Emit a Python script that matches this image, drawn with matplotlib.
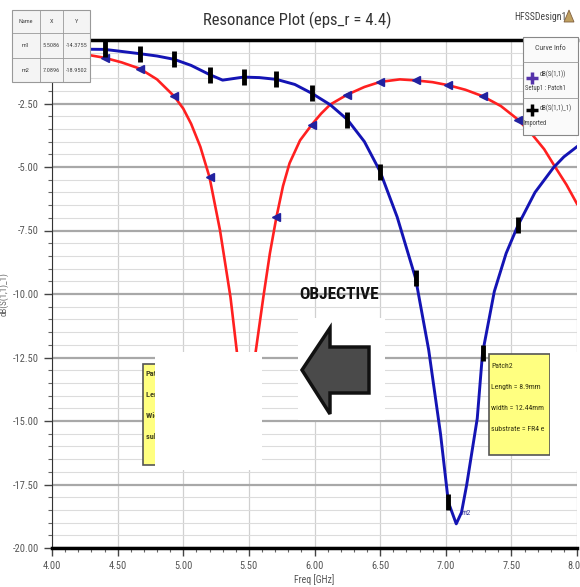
import numpy as np
import matplotlib
matplotlib.use("Agg")
import matplotlib.pyplot as plt
from matplotlib import font_manager
from matplotlib.patches import Rectangle, Polygon
from matplotlib.lines import Line2D
from matplotlib.ticker import MultipleLocator, FormatStrFormatter

# === DATA ===
# dB(S(1,1)) Setup1 : Patch1  (red curve)
freq_patch = [4.00, 4.15, 4.29, 4.40, 4.53, 4.67, 4.80, 4.93, 5.00, 5.06, 5.13, 5.20, 5.28,
              5.36, 5.41, 5.45, 5.49, 5.52, 5.55, 5.61, 5.66, 5.71, 5.76, 5.81, 5.89, 5.98,
              6.05, 6.12, 6.25, 6.38, 6.50, 6.65, 6.77, 6.90, 7.02, 7.15, 7.28, 7.42, 7.55,
              7.66, 7.75, 7.83, 7.92, 8.00]
db_patch = [-0.50, -0.55, -0.60, -0.70, -0.88, -1.13, -1.55, -2.21, -2.70, -3.30, -4.20, -5.40,
            -7.49, -10.13, -12.34, -13.70, -14.38, -13.60, -12.34, -10.13, -8.40, -6.97, -5.75,
            -4.85, -3.95, -3.33, -2.90, -2.54, -2.15, -1.85, -1.65, -1.55, -1.59, -1.66, -1.78,
            -1.96, -2.21, -2.60, -3.13, -3.73, -4.30, -4.97, -5.70, -6.45]

# dB(S(1,1)_1) Imported  (blue curve)
freq_imp = [4.00, 4.20, 4.40, 4.53, 4.67, 4.80, 4.93, 5.06, 5.20, 5.30, 5.38, 5.46,
            5.58, 5.71, 5.85, 5.98, 6.12, 6.25, 6.38, 6.50, 6.63, 6.77, 6.87, 6.96,
            7.02, 7.08, 7.12, 7.16, 7.24, 7.28, 7.37, 7.46, 7.55, 7.68, 7.82, 7.90, 8.00]
db_imp = [-0.37, -0.36, -0.37, -0.45, -0.54, -0.63, -0.76, -1.00, -1.36, -1.58, -1.52, -1.46,
          -1.48, -1.55, -1.75, -2.10, -2.55, -3.13, -4.00, -5.18, -6.97, -9.38, -12.20, -15.50,
          -18.20, -19.05, -18.60, -17.50, -14.90, -12.34, -9.90, -8.40, -7.30, -6.00, -5.03,
          -4.60, -4.20]

marker_freqs = [4.40, 4.67, 4.93, 5.20, 5.45, 5.46, 5.71, 5.98, 6.25, 6.50, 6.77, 7.02, 7.28, 7.55]

table_rows = [["Name", "X", "Y"],
              ["m1", "5.5086", "-14.3755"],
              ["m2", "7.0896", "-18.9502"]]

note_left = ["Patch1", "Length = 15.2mm", "Width = 18.6mm", "substrate = FR4 eps"]
note_right = ["Patch2", "Length = 8.9mm", "width = 12.44mm", "substrate = FR4 e"]

# narrow font if one is installed, else condensed DejaVu (falls back to normal)
names = {f.name for f in font_manager.fontManager.ttflist}
narrow = [n for n in ["Liberation Sans Narrow", "Roboto Condensed", "Open Sans Condensed",
                      "Arial Narrow"] if n in names]
plt.rcParams["font.family"] = narrow + ["DejaVu Sans"]
plt.rcParams["font.stretch"] = "condensed"

W, H = 580, 587
fig = plt.figure(figsize=(W / 100, H / 100), dpi=100)

def fx(x):
    return x / W

def fy(y):
    return 1 - y / H

ax = fig.add_axes([fx(52), fy(548), 525 / W, 508 / H])

# marker positions taken from the data arrays themselves
mk_patch = [i for i, f in enumerate(freq_patch) if f in marker_freqs]
mk_imp = [i for i, f in enumerate(freq_imp) if f in marker_freqs]

ax.plot(freq_patch, db_patch, color="#ff2020", lw=1.9, zorder=3,
        marker="<", ms=6, mfc="#2222a0", mec="#2222a0", markevery=mk_patch)
ax.plot(freq_imp, db_imp, color="#1414b4", lw=2.1, zorder=3,
        marker="|", ms=11, mew=3.5, mec="black", markevery=mk_imp)

ax.set_xlim(4, 8)
ax.set_ylim(-20, 0)
ax.xaxis.set_major_locator(MultipleLocator(0.5))
ax.xaxis.set_minor_locator(MultipleLocator(0.1))
ax.yaxis.set_major_locator(MultipleLocator(2.5))
ax.yaxis.set_minor_locator(MultipleLocator(0.5))
ax.xaxis.set_major_formatter(FormatStrFormatter("%.2f"))
ax.yaxis.set_major_formatter(FormatStrFormatter("%.2f"))
ax.set_yticks(np.arange(-20, 0, 2.5))
ax.grid(which="major", axis="y", color="#a8a8a8", lw=1.6)
ax.grid(which="minor", axis="y", color="#dcdcdc", lw=0.8)
ax.grid(which="major", axis="x", color="#d0d0d0", lw=0.9)
ax.tick_params(axis="both", which="major", labelsize=7.5, labelcolor="#555555",
               color="#444444", length=6, width=1)
ax.tick_params(axis="both", which="minor", color="#666666", length=3, width=0.8)
for s in ("top", "bottom"):
    ax.spines[s].set_linewidth(2.5)
    ax.spines[s].set_color("black")
ax.spines["left"].set_color("#333333")
ax.spines["right"].set_visible(False)
ax.set_xlabel("Freq [GHz]", fontsize=7, color="#555555", labelpad=2)
ax.set_ylabel("dB(S(1,1)_1)", fontsize=6.5, color="#666666", labelpad=3)

# m2 marker label
ax.annotate("m2", xy=(7.08, -19.05), xytext=(7.12, -18.7), fontsize=5.5, color="#333399")

# title and design name
fig.text(fx(297), fy(20), "Resonance Plot (eps_r = 4.4)", ha="center", va="center",
         fontsize=12, color="#333333")
fig.text(fx(540), fy(17), "HFSSDesign1", ha="center", va="center", fontsize=7, color="#444444")
fig.add_artist(Polygon([(fx(564), fy(22)), (fx(574), fy(22)), (fx(569), fy(10))],
                       closed=True, fc="#c0a060", ec="#806040", lw=0.6))

# marker table (top left)
col_x = [12, 40, 63, 90]
row_y = [10, 33, 58, 82]
fig.add_artist(Rectangle((fx(12), fy(82)), fx(78), 72 / H, fc="#f4f4f4", ec="#999999", lw=0.8))
for r, row in enumerate(table_rows):
    for c, cell in enumerate(row):
        fig.text(fx((col_x[c] + col_x[c + 1]) / 2), fy((row_y[r] + row_y[r + 1]) / 2), cell,
                 ha="center", va="center", fontsize=4.5, color="#444444")
for y in row_y[1:-1]:
    fig.add_artist(Line2D([fx(12), fx(90)], [fy(y), fy(y)], color="#999999", lw=0.6))
for x in col_x[1:-1]:
    fig.add_artist(Line2D([fx(x), fx(x)], [fy(10), fy(82)], color="#999999", lw=0.6))

# curve info legend (top right)
fig.add_artist(Rectangle((fx(523), fy(135)), fx(55), 98 / H, fc="#fafafa", ec="#888888", lw=0.8))
fig.text(fx(550), fy(48), "Curve Info", ha="center", va="center", fontsize=5.5, color="#444444")
for y in (62, 98):
    fig.add_artist(Line2D([fx(523), fx(578)], [fy(y), fy(y)], color="#999999", lw=0.6))
fig.add_artist(Line2D([fx(532)], [fy(78)], marker="+", ms=8, mew=2.5, color="#5533aa"))
fig.text(fx(540), fy(74), "dB(S(1,1))", fontsize=4.8, va="center", color="#444444")
fig.text(fx(525), fy(88), "Setup1 : Patch1", fontsize=4.8, va="center", color="#444444")
fig.add_artist(Line2D([fx(532)], [fy(110)], marker="+", ms=8, mew=2.5, color="black"))
fig.text(fx(540), fy(108), "dB(S(1,1)_1)", fontsize=4.8, va="center", color="#444444")
fig.text(fx(524), fy(124), "Imported", fontsize=4.8, va="center", color="#444444")

# left note (mostly covered by a white patch)
fig.add_artist(Rectangle((fx(143), fy(465)), fx(60), 101 / H, fc="#ffff80", ec="#555555", lw=1.2))
for i, t in enumerate(note_left):
    fig.text(fx(146), fy(374 + i * 21), t, fontsize=6, va="center", color="#444422",
             fontweight="bold")
fig.add_artist(Rectangle((fx(155), fy(470)), fx(107), 118 / H, fc="white", ec="none", zorder=5))

# right note
fig.add_artist(Rectangle((fx(489), fy(455)), fx(61), 101 / H, fc="#ffff80", ec="#555555", lw=1.2))
for i, t in enumerate(note_right):
    fig.text(fx(491), fy(366 + i * 21), t, fontsize=5.6, va="center", color="#333311")
fig.add_artist(Rectangle((fx(550), fy(470)), fx(30), 118 / H, fc="white", ec="none", zorder=5))

# objective arrow
fig.add_artist(Rectangle((fx(298), fy(420)), fx(87), 102 / H, fc="white", ec="none"))
fig.text(fx(339), fy(295), "OBJECTIVE", ha="center", va="center", fontsize=12.5,
         fontweight="bold", color="#111111")
arrow = [(302, 370), (330, 328), (330, 347), (369, 347), (369, 393), (330, 393), (330, 414)]
fig.add_artist(Polygon([(fx(x), fy(y)) for x, y in arrow], closed=True,
                       fc="#4a4a4a", ec="#111111", lw=2.5))

fig.savefig("out.png", dpi=100)
